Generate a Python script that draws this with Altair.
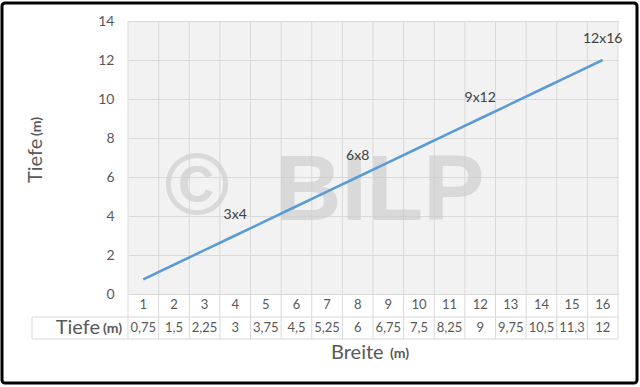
import altair as alt
import pandas as pd

# ---- data ----
breite = list(range(1, 17))
tiefe = [0.75, 1.5, 2.25, 3, 3.75, 4.5, 5.25, 6, 6.75, 7.5, 8.25, 9, 9.75, 10.5, 11.25, 12]
tiefe_text = ["0,75", "1,5", "2,25", "3", "3,75", "4,5", "5,25", "6", "6,75", "7,5",
              "8,25", "9", "9,75", "10,5", "11,3", "12"]
label_breite = [4, 8, 12, 16]
label_text = ["3x4", "6x8", "9x12", "12x16"]
y_ticks = [0, 2, 4, 6, 8, 10, 12, 14]

W, H = 490, 273
FONT = "Lato"
GRAY = "#595959"
GRID = "#d9d9d9"

df = pd.DataFrame({"breite": breite, "tiefe": tiefe, "ttext": tiefe_text,
                   "btext": [str(b) for b in breite]})
lab = pd.DataFrame({"breite": label_breite, "text": label_text,
                    "tiefe": [tiefe[breite.index(b)] for b in label_breite]})
edges = pd.DataFrame({"e": [b - 0.5 for b in breite] + [breite[-1] + 0.5]})
one = pd.DataFrame({"a": [0]})

xs = alt.Scale(domain=[0.5, 16.5], nice=False, zero=False)
ys = alt.Scale(domain=[0, 14], nice=False)
yaxis = alt.Axis(values=y_ticks, tickCount=8, grid=True, gridColor=GRID, domain=False,
                 ticks=False, labelOverlap=False, labelBound=False, labelFlush=False,
                 labelFont=FONT, labelFontSize=14, labelColor=GRAY, labelPadding=14,
                 title=None)
X = alt.X("breite:Q", scale=xs, axis=None)
Y = alt.Y("tiefe:Q", scale=ys, axis=yaxis)

base = alt.Chart(df)

# vertical gridlines at category edges, continuing through the data table
grid = alt.Chart(edges).mark_rule(color=GRID, strokeWidth=1).encode(
    x=alt.X("e:Q", scale=xs, axis=None),
    y=alt.value(0), y2=alt.value(H + 45),
)

# watermark
wm1 = alt.Chart(one).mark_text(text="©", font="Liberation Sans", fontWeight="bold",
                               fontSize=88, color="#cccccc", opacity=0.65,
                               align="center", baseline="middle").encode(
    x=alt.value(197 - 128), y=alt.value(188 - 21))
wm2 = alt.Chart(one).mark_text(text="BILP", font="Liberation Sans", fontWeight="bold",
                               fontSize=92, color="#cccccc", opacity=0.65,
                               align="left", baseline="alphabetic").encode(
    x=alt.value(275 - 128), y=alt.value(220 - 21))

line = base.mark_line(color="#5b9bd5", strokeWidth=2.5).encode(x=X, y=Y)

labels = alt.Chart(lab).mark_text(font=FONT, fontSize=14, color="#404040", dy=-21,
                                  align="center", baseline="middle").encode(
    x=X, y=Y, text="text:N")

# data table
row1 = base.mark_text(font=FONT, fontSize=13, color=GRAY, baseline="middle").encode(
    x=X, y=alt.value(H + 11), text="btext:N")
row2 = base.mark_text(font=FONT, fontSize=13, color=GRAY, baseline="middle").encode(
    x=X, y=alt.value(H + 34), text="ttext:N")
hl1 = alt.Chart(one).mark_rule(color=GRID).encode(
    x=alt.value(-96), x2=alt.value(W), y=alt.value(H + 23))
hl2 = alt.Chart(one).mark_rule(color=GRID).encode(
    x=alt.value(-96), x2=alt.value(W), y=alt.value(H + 45))
vl0 = alt.Chart(one).mark_rule(color=GRID).encode(
    x=alt.value(-96), y=alt.value(H + 23), y2=alt.value(H + 45))
t_tiefe = alt.Chart(one).mark_text(text="Tiefe", font=FONT, fontSize=20, color=GRAY,
                                   align="right", baseline="alphabetic").encode(
    x=alt.value(100 - 128), y=alt.value(334 - 21))
t_m = alt.Chart(one).mark_text(text="(m)", font=FONT, fontSize=14, color=GRAY,
                               fontWeight="bold", align="left", baseline="alphabetic").encode(
    x=alt.value(103 - 128), y=alt.value(333 - 21))

# axis titles
ytit = alt.Chart(one).mark_text(text="Tiefe", font=FONT, fontSize=20, color=GRAY, angle=270,
                                align="left", baseline="alphabetic").encode(
    x=alt.value(42 - 128), y=alt.value(183 - 21))
ytit_m = alt.Chart(one).mark_text(text="(m)", font=FONT, fontSize=14, color=GRAY, angle=270,
                                  fontWeight="bold", align="left", baseline="alphabetic").encode(
    x=alt.value(41 - 128), y=alt.value(136 - 21))
xtit = alt.Chart(one).mark_text(text="Breite", font=FONT, fontSize=20, color=GRAY,
                                align="left", baseline="alphabetic").encode(
    x=alt.value(331 - 128), y=alt.value(359 - 21))
xtit_m = alt.Chart(one).mark_text(text="(m)", font=FONT, fontSize=14, color=GRAY,
                                  fontWeight="bold", align="left", baseline="alphabetic").encode(
    x=alt.value(390 - 128), y=alt.value(358 - 21))

frame = alt.Chart(one).mark_rect(filled=False, stroke="black", strokeWidth=3,
                                 cornerRadius=3).encode(
    x=alt.value(2 - 128), x2=alt.value(637 - 128), y=alt.value(3 - 21), y2=alt.value(383 - 21))

chart = alt.layer(
    grid, wm1, wm2, line, labels, row1, row2, hl1, hl2, vl0,
    t_tiefe, t_m, ytit, ytit_m, xtit, xtit_m, frame
).properties(
    width=W, height=H,
    autosize=alt.AutoSizeParams(type="none"),
    padding={"left": 128, "top": 21, "right": 22, "bottom": 93},
    background="white",
).configure_view(fill="#f2f2f2", strokeWidth=0)

chart.save("out.html", embed_options={"renderer": "svg", "actions": False})
